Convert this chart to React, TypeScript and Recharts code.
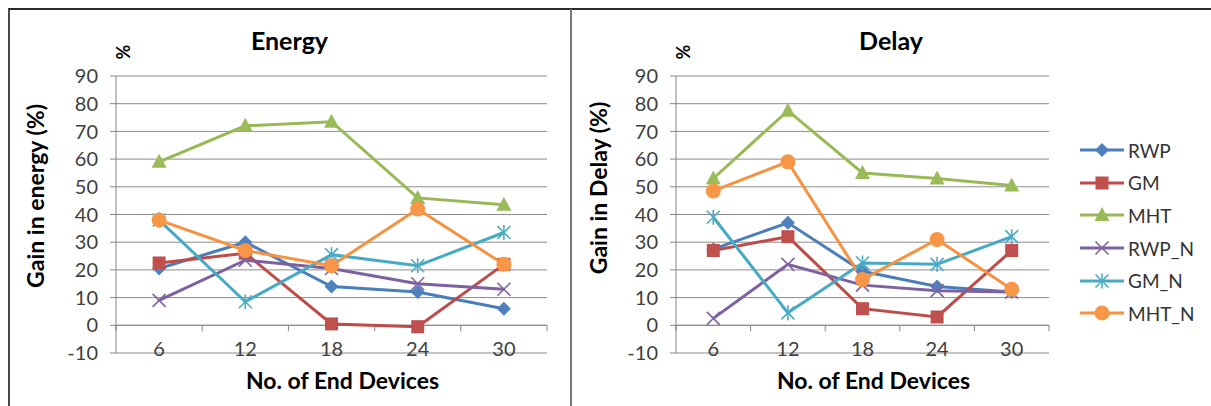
import React from "react"
import {
  LineChart,
  Line,
  XAxis,
  YAxis,
  CartesianGrid,
  ReferenceLine,
  Legend,
  Label,
} from "recharts"

const devices = ["6", "12", "18", "24", "30"]
const yTicks = [-10, 0, 10, 20, 30, 40, 50, 60, 70, 80, 90]
const seriesNames = ["RWP", "GM", "MHT", "RWP_N", "GM_N", "MHT_N"]

// energy gain (%)
const energyRWP = [20.5, 30, 14, 12, 6]
const energyGM = [22.5, 26, 0.5, -0.5, 22]
const energyMHT = [59, 72, 73.5, 46, 43.5]
const energyRWPN = [9, 23.5, 20.5, 15, 13]
const energyGMN = [38, 8.5, 25.5, 21.5, 33.5]
const energyMHTN = [38, 27, 21.5, 42, 22]

// delay gain (%)
const delayRWP = [27.5, 37, 19.5, 14, 12]
const delayGM = [27, 32, 6, 3, 27]
const delayMHT = [53, 77.5, 55, 53, 50.5]
const delayRWPN = [2.5, 22, 14.5, 12.5, 12]
const delayGMN = [39, 4.5, 22.5, 22, 32]
const delayMHTN = [48.5, 59, 16.5, 31, 13]

const lineColors = ["#4a7ebb", "#be4b48", "#98b954", "#7d60a0", "#46aac5", "#f69240"]
const markerColors = ["#4f81bd", "#c0504d", "#9bbb59", "#8064a2", "#4bacc6", "#f79646"]
const markerShapes = ["diamond", "square", "triangle", "x", "star", "circle"]

const FONT = "Lato, 'Open Sans', sans-serif"
const GRID = "#8c8c8c"

function buildRows(cols: number[][]) {
  return devices.map((n, i) => {
    const row: Record<string, string | number> = { n }
    seriesNames.forEach((s, j) => {
      row[s] = cols[j][i]
    })
    return row
  })
}

const energyRows = buildRows([energyRWP, energyGM, energyMHT, energyRWPN, energyGMN, energyMHTN])
const delayRows = buildRows([delayRWP, delayGM, delayMHT, delayRWPN, delayGMN, delayMHTN])

function Marker({ cx, cy, shape, color }: { cx: number; cy: number; shape: string; color: string }) {
  if (cx == null || cy == null) return null
  switch (shape) {
    case "diamond":
      return <polygon points={`${cx},${cy - 7} ${cx + 7},${cy} ${cx},${cy + 7} ${cx - 7},${cy}`} fill={color} />
    case "square":
      return <rect x={cx - 6.5} y={cy - 6.5} width={13} height={13} fill={color} />
    case "triangle":
      return <polygon points={`${cx},${cy - 8} ${cx + 7.5},${cy + 6} ${cx - 7.5},${cy + 6}`} fill={color} />
    case "x":
      return (
        <g stroke={color} strokeWidth={1.6}>
          <line x1={cx - 6.5} y1={cy - 6.5} x2={cx + 6.5} y2={cy + 6.5} />
          <line x1={cx - 6.5} y1={cy + 6.5} x2={cx + 6.5} y2={cy - 6.5} />
        </g>
      )
    case "star":
      return (
        <g stroke={color} strokeWidth={1.6}>
          <line x1={cx - 6.5} y1={cy - 6.5} x2={cx + 6.5} y2={cy + 6.5} />
          <line x1={cx - 6.5} y1={cy + 6.5} x2={cx + 6.5} y2={cy - 6.5} />
          <line x1={cx} y1={cy - 7.5} x2={cx} y2={cy + 7.5} />
        </g>
      )
    default:
      return <circle cx={cx} cy={cy} r={7.5} fill={color} />
  }
}

function LegendContent({ payload }: any) {
  const items = [...(payload || [])].sort(
    (a: any, b: any) => seriesNames.indexOf(a.value) - seriesNames.indexOf(b.value)
  )
  return (
    <div style={{ width: 162, boxSizing: "border-box", paddingLeft: 31 }}>
      {items.map((item: any) => {
        const i = seriesNames.indexOf(item.value)
        return (
          <div key={item.value} style={{ height: 32.6, display: "flex", alignItems: "center" }}>
            <svg width={44} height={16}>
              <line x1={0} y1={8} x2={44} y2={8} stroke={lineColors[i]} strokeWidth={3} />
              <Marker cx={22} cy={8} shape={markerShapes[i]} color={markerColors[i]} />
            </svg>
            <span style={{ marginLeft: 4, fontFamily: FONT, fontSize: 19, color: "#333" }}>{item.value}</span>
          </div>
        )
      })}
    </div>
  )
}

const zeroAxis = (count: number) => (p: any) => {
  const { x1, y1, x2, y2 } = p
  const step = (x2 - x1) / count
  return (
    <g stroke="#868686" strokeWidth={1}>
      <line x1={x1} y1={y1} x2={x2} y2={y2} />
      {Array.from({ length: count + 1 }).map((_, i) => (
        <line key={i} x1={x1 + i * step} x2={x1 + i * step} y1={y1} y2={y1 + 6} />
      ))}
    </g>
  )
}

function XTick(p: any) {
  return (
    <text x={p.x} y={p.y - 5} textAnchor="middle" dominantBaseline="central" fontFamily={FONT} fontSize={20} fill="#404040">
      {p.payload.value}
    </text>
  )
}

function Panel({
  left,
  width,
  title,
  yTitle,
  yCenter,
  rows,
  axisWidth,
  rightMargin,
  showLegend,
}: {
  left: number
  width: number
  title: string
  yTitle: string
  yCenter: number
  rows: any[]
  axisWidth: number
  rightMargin: number
  showLegend?: boolean
}) {
  const yLabel = () => {
    const cx = 27
    const cy = yCenter
    return (
      <text x={cx} y={cy} transform={`rotate(-90 ${cx} ${cy})`} textAnchor="middle" dominantBaseline="central"
        fontFamily={FONT} fontSize={23} fontWeight="bold" fill="#000">
        {yTitle}
      </text>
    )
  }
  const xLabel = (props: any) => {
    const vb = props.viewBox
    return (
      <text x={vb.x + vb.width / 2 + 11} y={380} textAnchor="middle" dominantBaseline="central"
        fontFamily={FONT} fontSize={23} fontWeight="bold" fill="#000">
        No. of End Devices
      </text>
    )
  }
  return (
    <div style={{ position: "absolute", left, top: 0, width, height: 406 }}>
      <div style={{ position: "absolute", left: 0, top: 25, width, textAlign: "center", fontFamily: FONT, fontWeight: "bold", fontSize: 25, lineHeight: "30px" }}>
        {title}
      </div>
      <div style={{ position: "absolute", left: axisWidth, top: 41, fontFamily: FONT, fontSize: 18, lineHeight: "22px", fontWeight: "bold", transform: "rotate(-90deg)" }}>
        %
      </div>
      <LineChart width={width} height={406} data={rows} margin={{ top: 76, right: rightMargin, bottom: 0, left: 0 }}>
        <CartesianGrid vertical={false} stroke={GRID} />
        <XAxis dataKey="n" scale="band" axisLine={false} tickLine={false} tickSize={0} tickMargin={0} height={53} tick={<XTick />} interval={0}>
          <Label content={xLabel} />
        </XAxis>
        <YAxis width={axisWidth} domain={[-10, 90]} ticks={yTicks} interval={0} stroke="#868686" tickSize={6} tickMargin={12}
          tick={{ fill: "#404040", fontSize: 20, fontFamily: FONT }}>
          <Label content={yLabel} />
        </YAxis>
        <ReferenceLine y={0} shape={zeroAxis(devices.length)} />
        {seriesNames.map((s, i) => (
          <Line
            key={s}
            dataKey={s}
            name={s}
            stroke={lineColors[i]}
            strokeWidth={3}
            isAnimationActive={false}
            dot={(p: any) => <Marker key={`${s}-${p.index}`} cx={p.cx} cy={p.cy} shape={markerShapes[i]} color={markerColors[i]} />}
            activeDot={false}
          />
        ))}
        {showLegend && (
          <Legend layout="vertical" align="right" verticalAlign="top" content={<LegendContent />} wrapperStyle={{ top: 134, right: 0 }} />
        )}
      </LineChart>
    </div>
  )
}

export default function App() {
  return (
    <div style={{ position: "absolute", left: 0, top: 0, width: 1211, height: 406, background: "#fff", overflow: "hidden" }}>
      <div style={{ position: "absolute", left: 8, top: 8, width: 1203, height: 398, borderTop: "2px solid #2a2a2a", borderLeft: "2px solid #4a4a4a" }} />
      <div style={{ position: "absolute", left: 570, top: 9, width: 2, height: 397, background: "#7a7a7a" }} />
      <Panel left={8} width={563} title="Energy" yTitle="Gain in energy (%)" yCenter={196} rows={energyRows} axisWidth={108} rightMargin={24} />
      <Panel left={571} width={640} title="Delay" yTitle="Gain in Delay (%)" yCenter={188} rows={delayRows} axisWidth={105} rightMargin={0} showLegend />
    </div>
  )
}
